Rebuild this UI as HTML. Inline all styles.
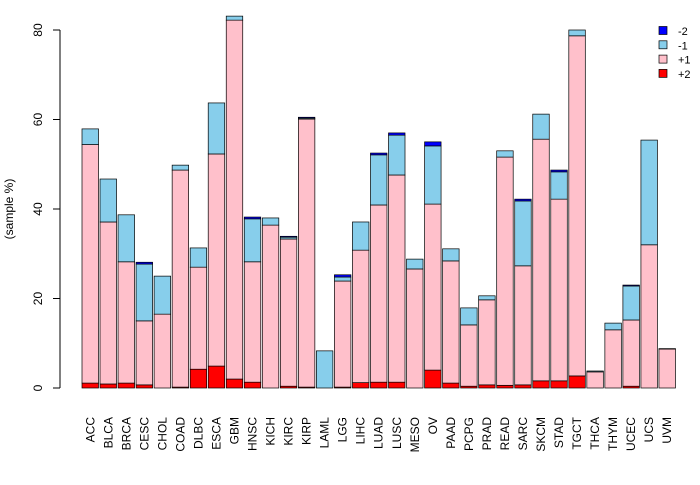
<!DOCTYPE html>
<html><head><meta charset="utf-8"><style>body{margin:0;background:#fff}svg text{font-family:"Liberation Sans",sans-serif}</style></head>
<body>
<svg id="chart" width="700" height="480" xmlns="http://www.w3.org/2000/svg"></svg>
<script>
const categories=["ACC","BLCA","BRCA","CESC","CHOL","COAD","DLBC","ESCA","GBM","HNSC","KICH","KIRC","KIRP","LAML","LGG","LIHC","LUAD","LUSC","MESO","OV","PAAD","PCPG","PRAD","READ","SARC","SKCM","STAD","TGCT","THCA","THYM","UCEC","UCS","UVM"];
const plus2=[1.1,0.9,1.1,0.7,0,0.2,4.2,4.9,2.0,1.3,0,0.4,0.2,0,0.2,1.2,1.3,1.3,0,4.0,1.1,0.4,0.7,0.6,0.7,1.6,1.6,2.7,0,0,0.4,0,0];
const plus1=[53.3,36.2,27.1,14.3,16.5,48.5,22.8,47.4,80.2,26.9,36.4,32.9,59.9,0,23.7,29.6,39.6,46.3,26.6,37.1,27.3,13.7,19.0,51.0,26.6,54.0,40.6,76.0,3.6,13.0,14.8,32.0,8.7];
const minus1=[3.5,9.6,10.5,12.7,8.5,1.1,4.3,11.4,0.9,9.6,1.6,0.4,0.2,8.3,0.9,6.3,11.2,8.9,2.2,13.0,2.7,3.8,0.9,1.4,14.5,5.6,6.1,1.3,0.2,1.5,7.6,23.4,0.1];
const minus2=[0,0,0,0.4,0,0,0,0,0,0.4,0,0.2,0.2,0,0.5,0,0.4,0.5,0,0.9,0,0,0,0,0.4,0,0.4,0,0,0,0.2,0,0];
const yTicks=[0,20,40,60,80];
const series=[{name:"+2",vals:plus2,color:"#ff0000"},{name:"+1",vals:plus1,color:"#ffc0cb"},{name:"-1",vals:minus1,color:"#87ceeb"},{name:"-2",vals:minus2,color:"#0000ff"}];
const NS="http://www.w3.org/2000/svg",svg=document.getElementById("chart");
function el(t,a,txt){const e=document.createElementNS(NS,t);for(const k in a)e.setAttribute(k,a[k]);if(txt!==undefined)e.textContent=txt;svg.appendChild(e);return e;}
const y=v=>388-v*4.475;
const x0=82,step=18.03,bw=16.5;
const xc=i=>x0+i*step+bw/2;
categories.forEach((c,i)=>{
  let base=0;
  series.forEach(s=>{
    const v=s.vals[i];
    if(v>0){
      const r=el("rect",{x:xc(i)-bw/2,y:y(base+v),width:bw,height:v*4.475,fill:s.color,stroke:"#000","stroke-width":0.7});
      
      
    }
    base+=v;
  });
  const t=el("text",{x:xc(i)+4,y:417,"font-size":12,"text-anchor":"end",transform:`rotate(-90 ${xc(i)+4} 417)`},c);
  
  
});
const ax=el("line",{x1:60,x2:60,y1:y(80),y2:y(0),stroke:"#000"});


yTicks.forEach(v=>{
  el("line",{x1:53,x2:60,y1:y(v),y2:y(v),stroke:"#000"});
  const t=el("text",{x:42,y:y(v),"font-size":12,"text-anchor":"middle",transform:`rotate(-90 42 ${y(v)})`},v);
  
  
});
const yt=el("text",{x:13,y:209,"font-size":12,"text-anchor":"middle",transform:"rotate(-90 13 209)"},"(sample %)");


[...series].reverse().forEach((s,k)=>{
  const ly=31+k*14.3;
  const r=el("rect",{x:659,y:ly-4.5,width:8,height:8,fill:s.color,stroke:"#000","stroke-width":0.7});
  
  
  const t=el("text",{x:678,y:ly+4,"font-size":11},s.name);
  
  
});
</script>
</body></html>
